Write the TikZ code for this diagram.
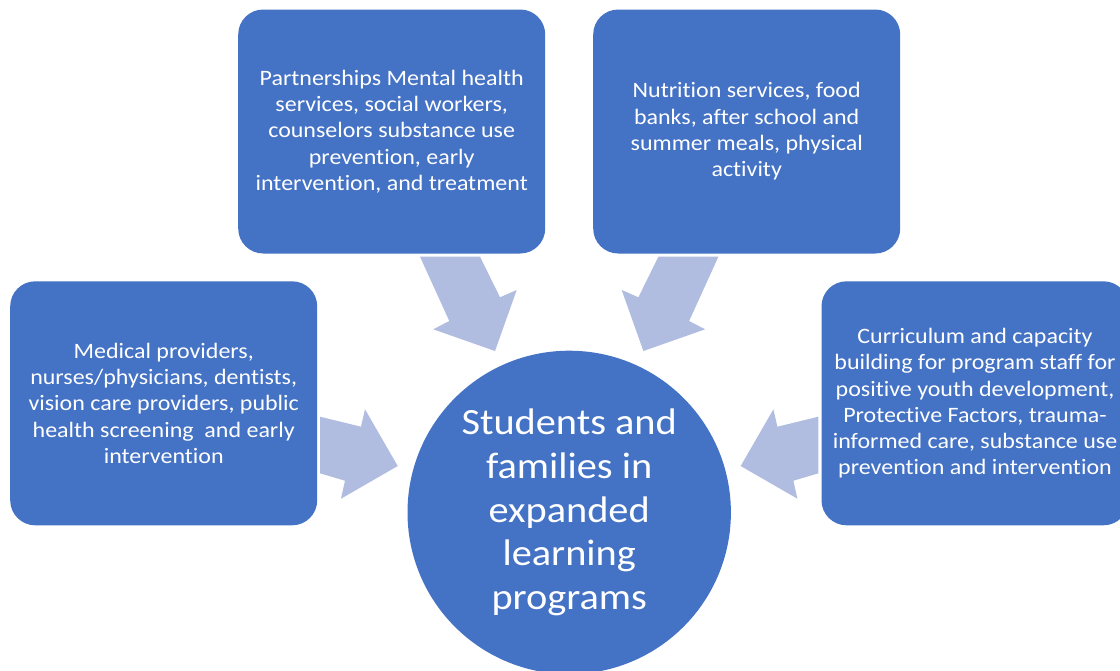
\documentclass[tikz,border=0pt]{standalone}
\usepackage{fontspec}
\setmainfont[FakeStretch=1.09, RawFeature=-liga]{Carlito}
\definecolor{boxblue}{RGB}{68,114,196}
\definecolor{arrowblue}{RGB}{176,188,224}
\tikzset{
  infobox/.style={rectangle, rounded corners=25pt, fill=boxblue, text=white,
    align=center, inner sep=0pt, minimum width=307pt, minimum height=244pt,
    font={\fontsize{22}{26.3}\selectfont}},
  hubnode/.style={circle, fill=boxblue, text=white, align=center, inner sep=0pt,
    minimum size=323.4pt, font={\fontsize{37}{43.7}\selectfont}},
  blockarrow/.style={fill=arrowblue, draw=none}
}
\begin{document}
\begin{tikzpicture}[x=1pt, y=-1pt]
\useasboundingbox (0,0) rectangle (1120,670);
\clip (0,0) rectangle (1120,670);
\fill[white] (0,0) rectangle (1120,670);

% block arrows
\fill[blockarrow] (420,256.7) -- (480,256.7) -- (500,297.3) -- (516.7,290) -- (495,351) -- (433.3,329.3) -- (449.3,321) -- cycle;
\fill[blockarrow] (718.4,256.7) -- (658.4,256.7) -- (638.4,297.3) -- (621.7,290) -- (643.4,351) -- (705.1,329.3) -- (689.1,321) -- cycle;
\fill[blockarrow] (320,416.7) -- (361,426.7) -- (365,409.3) -- (397.7,466) -- (341,498.7) -- (345,480.7) -- (320,473.3) -- cycle;
\fill[blockarrow] (818.4,416.7) -- (777.4,426.7) -- (773.4,409.3) -- (740.7,466) -- (797.4,498.7) -- (793.4,480.7) -- (818.4,473.3) -- cycle;

\node[infobox] (ment) at (391.7,131.5) {Partnerships Mental health\\services, social workers,\\counselors substance use\\prevention, early\\intervention, and treatment};
\node[infobox] (nutr) at (746.7,131.5) {Nutrition services, food\\banks, after school and\\summer meals, physical\\activity};
\node[infobox] (med) at (163.7,403.3) {Medical providers,\\nurses/physicians, dentists,\\vision care providers, public\\health screening\ \ and early\\intervention};
\node[infobox] (curr) at (975,403.3) {Curriculum and capacity\\building for program staff for\\positive youth development,\\Protective Factors, trauma-\\informed care, substance use\\prevention and intervention};

\node[hubnode] (hub) at (569.2,512.4) {Students and\\families in\\expanded\\learning\\programs};
\end{tikzpicture}
\end{document}
